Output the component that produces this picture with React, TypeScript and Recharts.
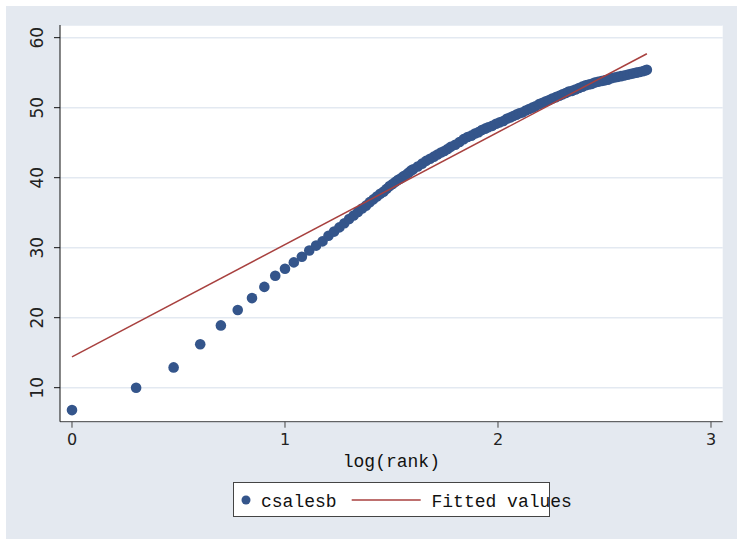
import { ScatterChart, Scatter, XAxis, YAxis, CartesianGrid } from 'recharts';

// rank of each firm and its csalesb value
const RANKS = [
  1, 2, 3, 4, 5, 6, 7, 8, 9, 10, 11, 12, 13, 14, 15, 16, 17, 18, 19, 20,
  21, 22, 23, 24, 25, 26, 27, 28, 29, 30,
  31, 32, 33, 34, 35, 36, 37, 38, 39, 40, 42, 44, 46, 48, 50,
  52, 54, 56, 58, 60,
  63, 66, 69, 72, 75, 78, 81, 84, 87, 90,
  94, 98, 102, 106, 110, 114, 118, 122, 126, 130,
  135, 140, 145, 150,
  156, 162, 168, 174, 180,
  187, 194, 201, 208, 215,
  223, 231, 240, 249, 258, 267, 276, 285,
  295, 306, 317, 328, 340, 352, 365, 378, 391, 405,
  418, 432, 447, 462, 478, 490, 500,
];
const CSALESB = [
  6.8, 10.0, 12.9, 16.2, 18.9, 21.1, 22.8, 24.4, 26.0, 27.0, 27.9, 28.7, 29.6, 30.3, 30.9, 31.7, 32.3, 32.9, 33.5, 34.1,
  34.6, 35.1, 35.6, 36.0, 36.5, 36.9, 37.3, 37.7, 38.0, 38.4,
  38.8, 39.1, 39.4, 39.7, 39.9, 40.2, 40.4, 40.7, 41.0, 41.2, 41.6, 42.0, 42.4, 42.7, 43.0,
  43.3, 43.6, 43.8, 44.1, 44.4,
  44.7, 45.1, 45.5, 45.8, 46.0, 46.3, 46.5, 46.8, 47.0, 47.2,
  47.4, 47.7, 47.9, 48.1, 48.4, 48.6, 48.8, 49.0, 49.2, 49.3,
  49.6, 49.8, 50.0, 50.2,
  50.5, 50.7, 50.9, 51.1, 51.3,
  51.5, 51.7, 51.9, 52.1, 52.3,
  52.4, 52.6, 52.8, 53.0, 53.2, 53.3, 53.4, 53.6,
  53.7, 53.8, 53.9, 54.0, 54.2, 54.3, 54.4, 54.5, 54.6, 54.7,
  54.8, 54.9, 55.0, 55.1, 55.2, 55.3, 55.4,
];

// fitted values line endpoints
const FIT_LOGRANK = [0, 2.699];
const FIT_VALUES = [14.4, 57.7];

const X_TICKS = [0, 1, 2, 3];
const Y_TICKS = [10, 20, 30, 40, 50, 60];

const points = RANKS.map((r, i) => ({ x: Math.log10(r), y: CSALESB[i] }));
const fitted = FIT_LOGRANK.map((x, i) => ({ x, y: FIT_VALUES[i] }));

const DOT = '#34558b';
const FIT = '#a8413f';
const BG = '#e4e9f0';
const SANS = '"DejaVu Sans", sans-serif';
const MONO = '"Liberation Mono", monospace';

function YTick({ x, y, payload }: any) {
  return (
    <text
      x={x}
      y={y}
      transform={`rotate(-90 ${x} ${y})`}
      textAnchor="middle"
      dy="0.36em"
      fontSize={17}
      fontFamily={SANS}
      fill="#222"
    >
      {payload.value}
    </text>
  );
}

export default function App() {
  return (
    <div style={{ position: 'absolute', left: 0, top: 0, width: 737, height: 539, background: '#fff' }}>
      <div style={{ position: 'absolute', left: 6, top: 6, right: 0, bottom: 0, background: BG }} />
      <div style={{ position: 'absolute', left: 0, top: 0 }}>
        <ScatterChart width={737} height={539} margin={{ top: 25, right: 14.3, bottom: 0, left: 0 }}>
          <CartesianGrid fill="#fff" vertical={false} stroke="#e3e9f1" strokeWidth={1.5} />
          <XAxis
            dataKey="x"
            type="number"
            domain={[-0.0563, 3.055]}
            ticks={X_TICKS}
            allowDataOverflow
            height={117.3}
            tickSize={6}
            tickMargin={6}
            stroke="#444"
            tick={{ fill: '#222', fontSize: 16, fontFamily: SANS }}
            label={{
              value: 'log(rank)',
              position: 'insideTop',
              offset: 33,
              style: { fontFamily: MONO, fontSize: 18, fill: '#111' },
            }}
          />
          <YAxis
            dataKey="y"
            type="number"
            domain={[5.14, 61.81]}
            ticks={Y_TICKS}
            allowDataOverflow
            width={60}
            tickSize={6}
            tickMargin={17}
            stroke="#111"
            tick={<YTick />}
          />
          <Scatter
            data={points}
            isAnimationActive={false}
            shape={(p: any) => <circle cx={p.cx} cy={p.cy} r={5.3} fill={DOT} />}
          />
          <Scatter
            data={fitted}
            isAnimationActive={false}
            line={{ stroke: FIT, strokeWidth: 1.5 }}
            shape={() => <g />}
          />
        </ScatterChart>
      </div>
      <svg
        style={{ position: 'absolute', left: 233, top: 482, overflow: 'visible' }}
        width={360}
        height={36}
      >
        <rect x={0.5} y={0.5} width={316} height={34} fill="#fff" stroke="#444" />
        <circle cx={13} cy={18} r={4.5} fill={DOT} />
        <text x={28} y={24.5} fontFamily={MONO} fontSize={18} fill="#111">
          csalesb
        </text>
        <line x1={118.7} x2={187.7} y1={18} y2={18} stroke={FIT} strokeWidth={1.5} />
        <text x={198.5} y={24.5} fontFamily={MONO} fontSize={18} fill="#111">
          Fitted values
        </text>
      </svg>
    </div>
  );
}
